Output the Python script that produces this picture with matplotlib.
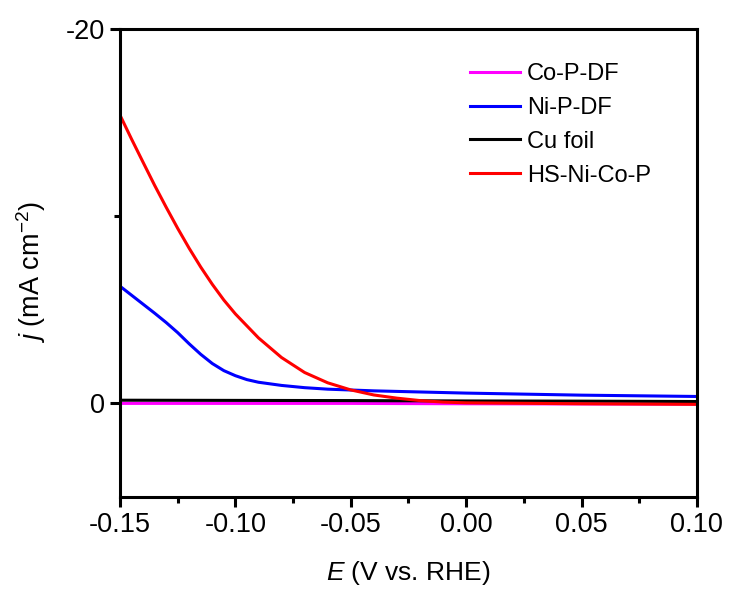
import numpy as np
import matplotlib.pyplot as plt
from matplotlib.ticker import MultipleLocator

plt.rcParams['font.family'] = ['Liberation Sans', 'DejaVu Sans']
plt.rcParams['mathtext.fontset'] = 'custom'
plt.rcParams['mathtext.rm'] = 'Liberation Sans'
plt.rcParams['mathtext.it'] = 'Liberation Sans:italic'
plt.rcParams['axes.unicode_minus'] = False

# potential (V vs. RHE) and current density (mA cm-2)
e_co = [-0.15, -0.10, -0.05, 0.00, 0.05, 0.10]
j_co = [0.0, 0.0, 0.0, 0.02, 0.03, 0.04]

e_ni = [-0.15, -0.145, -0.14, -0.135, -0.13, -0.125, -0.12, -0.115, -0.11,
        -0.105, -0.10, -0.095, -0.09, -0.08, -0.07, -0.06, -0.04, 0.0, 0.05, 0.10]
j_ni = [-6.26, -5.78, -5.3, -4.82, -4.32, -3.78, -3.18, -2.62, -2.13,
        -1.75, -1.48, -1.27, -1.13, -0.96, -0.84, -0.76, -0.67, -0.55, -0.44, -0.37]

e_cu = [-0.15, -0.10, -0.05, 0.00, 0.05, 0.10]
j_cu = [-0.17, -0.16, -0.15, -0.13, -0.12, -0.10]

e_hs = [-0.15, -0.145, -0.14, -0.135, -0.13, -0.125, -0.12, -0.115, -0.11,
        -0.105, -0.10, -0.09, -0.08, -0.07, -0.06, -0.05, -0.04, -0.03,
        -0.02, -0.01, 0.0, 0.05, 0.10]
j_hs = [-15.4, -14.12, -12.88, -11.65, -10.48, -9.35, -8.28, -7.28, -6.36,
        -5.52, -4.78, -3.5, -2.45, -1.65, -1.1, -0.72, -0.45, -0.28,
        -0.15, -0.07, -0.03, 0.02, 0.05]

fig = plt.figure(figsize=(7.29, 5.89), dpi=100)
ax = fig.add_axes([0.1646, 0.1562, 0.7914, 0.7946])

lw = 2.2
ax.plot(e_co, j_co, color='#ff00ff', lw=lw, label='Co-P-DF')
ax.plot(e_ni, j_ni, color='#0000ff', lw=lw, label='Ni-P-DF')
ax.plot(e_cu, j_cu, color='black', lw=lw, label='Cu foil')
ax.plot(e_hs, j_hs, color='#ff0000', lw=lw, label='HS-Ni-Co-P')

ax.set_xlim(-0.15, 0.10)
ax.set_ylim(5, -20)
ax.xaxis.set_major_locator(MultipleLocator(0.05))
ax.xaxis.set_minor_locator(MultipleLocator(0.025))
ax.yaxis.set_major_locator(MultipleLocator(20))
ax.yaxis.set_minor_locator(MultipleLocator(10))
ax.xaxis.set_major_formatter(lambda v, p: f'{v:.2f}')

for s in ax.spines.values():
    s.set_linewidth(2.2)
ax.tick_params(which='major', direction='out', length=7.5, width=2.2,
               labelsize=19.5, pad=3)
ax.tick_params(which='minor', direction='out', length=4.5, width=2.2)

ax.set_xlabel(r'$\it{E}$ (V vs. RHE)', fontsize=19)
ax.set_ylabel(r'$\it{j}$ (mA cm$^{-2}$)', fontsize=19.5)
ax.xaxis.set_label_coords(0.5, -0.132)
ax.yaxis.set_label_coords(-0.125, 0.481)

leg = ax.legend(loc='upper left', bbox_to_anchor=(0.607, 0.927), frameon=False,
                fontsize=17, handlelength=2.1, handletextpad=0.3,
                labelspacing=0.5, borderpad=0, borderaxespad=0)

fig.savefig('out.png', dpi=100)
